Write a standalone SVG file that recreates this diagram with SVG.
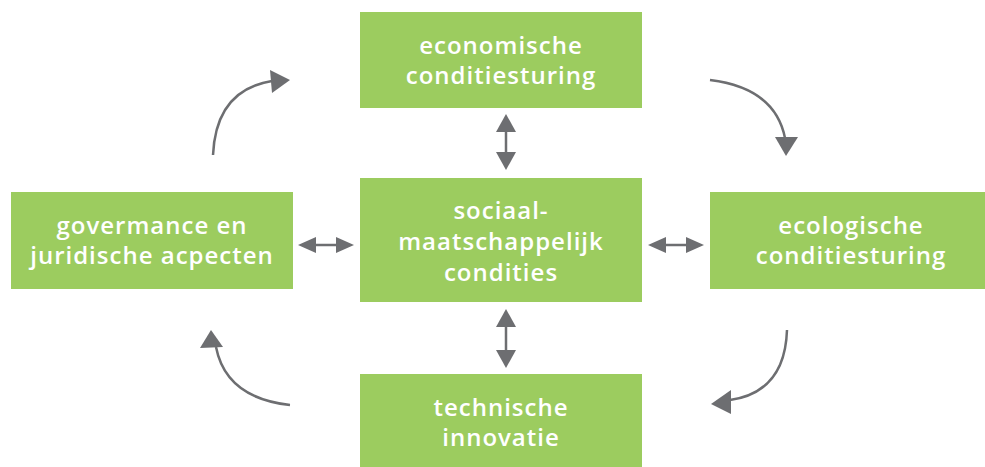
<svg xmlns="http://www.w3.org/2000/svg" width="985" height="467" viewBox="0 0 985 467">
  <defs>
    <style>
      .box { fill: #9ccc5f; }
      .lbl { fill: #ffffff; font-family: "Open Sans", "DejaVu Sans", sans-serif; font-size: 24px; font-weight: 600; letter-spacing: 1px; text-anchor: middle; font-variant-ligatures: none; }
      .link { fill: none; stroke: #6d6e71; stroke-width: 2.5; }
      .head { fill: #6d6e71; }
    </style>
  </defs>

  <g id="node-economisch">
    <rect class="box" x="360" y="12" width="282" height="96"/>
    <text class="lbl" x="501" y="54">economische</text>
    <text class="lbl" x="501" y="84">conditiesturing</text>
  </g>
  <g id="node-sociaal">
    <rect class="box" x="360" y="178" width="282" height="124"/>
    <text class="lbl" x="501" y="219">sociaal-</text>
    <text class="lbl" x="501" y="250">maatschappelijk</text>
    <text class="lbl" x="501" y="281">condities</text>
  </g>
  <g id="node-governance">
    <rect class="box" x="11" y="192" width="282" height="97"/>
    <text class="lbl" x="152" y="234">govermance en</text>
    <text class="lbl" x="152" y="264">juridische acpecten</text>
  </g>
  <g id="node-ecologisch">
    <rect class="box" x="710" y="192" width="275" height="97"/>
    <text class="lbl" x="851" y="234">ecologische</text>
    <text class="lbl" x="851" y="264">conditiesturing</text>
  </g>
  <g id="node-technisch">
    <rect class="box" x="360" y="374" width="282" height="93"/>
    <text class="lbl" x="501" y="416">technische</text>
    <text class="lbl" x="501" y="446">innovatie</text>
  </g>

  <g id="connectors">
    <!-- two-way link: governance <-> centre -->
    <path class="link" d="M314,245 H338"/>
    <polygon class="head" points="298,245 316,237 316,253"/>
    <polygon class="head" points="354,245 336,237 336,253"/>
    <!-- two-way link: centre <-> ecologisch -->
    <path class="link" d="M664,245 H688"/>
    <polygon class="head" points="648,245 666,237 666,253"/>
    <polygon class="head" points="704,245 686,237 686,253"/>
    <!-- two-way link: economisch <-> centre -->
    <path class="link" d="M506,130 V154"/>
    <polygon class="head" points="506,114 496,132 516,132"/>
    <polygon class="head" points="506,170 496,152 516,152"/>
    <!-- two-way link: centre <-> technisch -->
    <path class="link" d="M506,325 V352"/>
    <polygon class="head" points="506,309 496,327 516,327"/>
    <polygon class="head" points="506,368 496,350 516,350"/>
    <!-- clockwise cycle round the centre -->
    <path class="link" d="M213,155 Q216,90 272,81"/>
    <polygon class="head" points="290,80 270,70 272,93"/>
    <path class="link" d="M710,80 Q775,88 785,138"/>
    <polygon class="head" points="786,156 775,137 798,137"/>
    <path class="link" d="M787,330 Q785,392 730,400"/>
    <polygon class="head" points="711,404 731,390 731,414"/>
    <path class="link" d="M290,405 Q226,398 216,347"/>
    <polygon class="head" points="211,330 200,348 223,347"/>
  </g>
</svg>
